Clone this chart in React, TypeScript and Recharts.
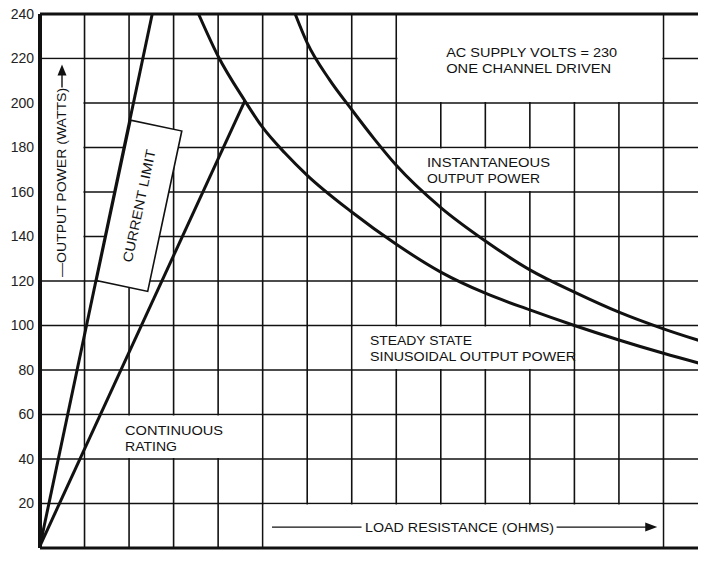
import React from "react";
import { LineChart, Line, XAxis, YAxis, CartesianGrid, ReferenceArea, ReferenceLine, ReferenceDot } from "recharts";

// load resistance (ohms) on x, output power (watts) on y
const xTicks = [0, 1, 2, 3, 4, 5, 6, 7, 8, 9, 10, 11, 12, 13, 14, 15];
const yTicks = [0, 20, 40, 60, 80, 100, 120, 140, 160, 180, 200, 220, 240];

const currentLimitR = [0, 2.52];
const currentLimitW = [1, 240];

const continuousR = [0, 4.6];
const continuousW = [1, 201];

const steadyR = [3.56, 4, 4.6, 5, 5.5, 6, 7, 8, 9, 10, 11, 12, 13, 14, 15];
const steadyW = [240, 221, 201, 189, 177.5, 167.5, 151, 136.5, 124, 114.5, 107, 100, 93.5, 87.5, 82];

const instantR = [5.73, 6, 6.5, 7, 7.5, 8, 9, 10, 11, 12, 13, 14, 15];
const instantW = [240, 227, 210.5, 197, 184, 172, 153, 138, 125, 115, 106, 98.5, 92];

const toPoints = (r: number[], w: number[]) => r.map((x, i) => ({ r: x, w: w[i] }));

const FONT = "'Liberation Sans', Arial, Helvetica, sans-serif";
const INK = "#111";

// white panels that hide the grid behind the notes: [x1, x2, y1, y2]
const panels: [number, number, number, number][] = [
  [8, 14, 200, 240],
  [8, 12, 160, 180],
  [7, 12, 80, 100],
  [1, 5, 40, 60],
  [5, 14, 0, 20],
  [0, 1, 120, 220],
];

function note(key: string, x: number, y: number, text: string, len: number) {
  return (
    <ReferenceDot
      key={key}
      x={x}
      y={y}
      r={0}
      ifOverflow="visible"
      shape={(p: any) => (
        <text
          x={p.cx}
          y={p.cy}
          fontFamily={FONT}
          fontSize={13.5}
          fill={INK}
          textLength={len}
          lengthAdjust="spacingAndGlyphs"
        >
          {text}
        </text>
      )}
    />
  );
}

export default function App() {
  return (
    <div style={{ width: 698, height: 553, overflow: "hidden", marginBottom: -8 }}>
      <LineChart width={720} height={553} margin={{ top: 6, right: 20, bottom: 0, left: 0 }}>
        <CartesianGrid stroke={INK} strokeWidth={1.6} />
        <XAxis
          type="number"
          dataKey="r"
          domain={[0, 15]}
          ticks={xTicks}
          interval={0}
          allowDataOverflow
          height={13}
          tickLine={false}
          tickMargin={1}
          axisLine={{ stroke: INK, strokeWidth: 3 }}
          tick={{ fontFamily: FONT, fontSize: 14, fill: "#222" }}
        />
        <YAxis
          type="number"
          domain={[0, 240]}
          ticks={yTicks}
          interval={0}
          allowDataOverflow
          width={32}
          tickLine={false}
          tickMargin={0}
          tickFormatter={(v: number) => (v === 0 ? "" : String(v))}
          axisLine={{ stroke: INK, strokeWidth: 4 }}
          tick={{ fontFamily: FONT, fontSize: 14, fill: "#222" }}
        />

        {panels.map(([x1, x2, y1, y2], i) => (
          <ReferenceArea
            key={"p" + i}
            x1={x1 + 0.025}
            x2={x2 - 0.025}
            y1={y1 + 0.45}
            y2={y2 - 0.45}
            fill="#fff"
            fillOpacity={1}
            stroke="none"
            ifOverflow="visible"
          />
        ))}

        <Line data={toPoints(currentLimitR, currentLimitW)} dataKey="w" type="linear" stroke={INK} strokeWidth={3} dot={false} isAnimationActive={false} />
        <Line data={toPoints(continuousR, continuousW)} dataKey="w" type="linear" stroke={INK} strokeWidth={3} dot={false} isAnimationActive={false} />
        <Line data={toPoints(steadyR, steadyW)} dataKey="w" type="monotone" stroke={INK} strokeWidth={3} dot={false} isAnimationActive={false} />
        <Line data={toPoints(instantR, instantW)} dataKey="w" type="monotone" stroke={INK} strokeWidth={3} dot={false} isAnimationActive={false} />

        <ReferenceLine y={240} stroke={INK} strokeWidth={3} ifOverflow="visible" />

        {note("ac1", 9.12, 220.7, "AC SUPPLY VOLTS = 230", 171)}
        {note("ac2", 9.12, 213.5, "ONE CHANNEL DRIVEN", 165)}
        {note("in1", 8.69, 171.2, "INSTANTANEOUS", 123)}
        {note("in2", 8.69, 164, "OUTPUT POWER", 113)}
        {note("ss1", 7.41, 91.2, "STEADY STATE", 102)}
        {note("ss2", 7.41, 84, "SINUSOIDAL OUTPUT POWER", 206)}
        {note("cr1", 1.91, 50.8, "CONTINUOUS", 98)}
        {note("cr2", 1.91, 43.6, "RATING", 52)}
        {note("load", 7.3, 7.2, "LOAD RESISTANCE (OHMS)", 189)}

        <ReferenceLine segment={[{ x: 5.21, y: 9.4 }, { x: 7.22, y: 9.4 }]} stroke={INK} strokeWidth={1.3} />
        <ReferenceLine segment={[{ x: 11.6, y: 9.4 }, { x: 13.7, y: 9.4 }]} stroke={INK} strokeWidth={1.3} />
        <ReferenceDot
          x={13.86}
          y={9.4}
          r={0}
          ifOverflow="visible"
          shape={(p: any) => (
            <polygon points={`${p.cx},${p.cy} ${p.cx - 12},${p.cy - 4.5} ${p.cx - 12},${p.cy + 4.5}`} fill={INK} />
          )}
        />

        {/* rotated current limit tag */}
        <ReferenceDot
          x={2.23}
          y={153.8}
          r={0}
          ifOverflow="visible"
          shape={(p: any) => (
            <g transform={`translate(${p.cx},${p.cy}) rotate(-78)`}>
              <rect x={-82} y={-26} width={164} height={52} fill="#fff" stroke={INK} strokeWidth={1.6} />
              <text
                x={0}
                y={0}
                textAnchor="middle"
                dominantBaseline="central"
                fontFamily={FONT}
                fontSize={13.5}
                fill={INK}
                textLength={115}
                lengthAdjust="spacingAndGlyphs"
              >
                CURRENT LIMIT
              </text>
            </g>
          )}
        />

        {/* y axis title with arrow */}
        <ReferenceDot
          x={0.494}
          y={164.3}
          r={0}
          ifOverflow="visible"
          shape={(p: any) => (
            <g transform={`translate(${p.cx},${p.cy}) rotate(-90)`}>
              <text
                x={0}
                y={0}
                textAnchor="middle"
                dominantBaseline="central"
                fontFamily={FONT}
                fontSize={13.5}
                fill={INK}
                textLength={189}
                lengthAdjust="spacingAndGlyphs"
              >
                —OUTPUT POWER (WATTS)
              </text>
              <line x1={95} x2={109} y1={0} y2={0} stroke={INK} strokeWidth={1.4} />
              <polygon points="118,0 107,-4.5 107,4.5" fill={INK} />
            </g>
          )}
        />
      </LineChart>
    </div>
  );
}
